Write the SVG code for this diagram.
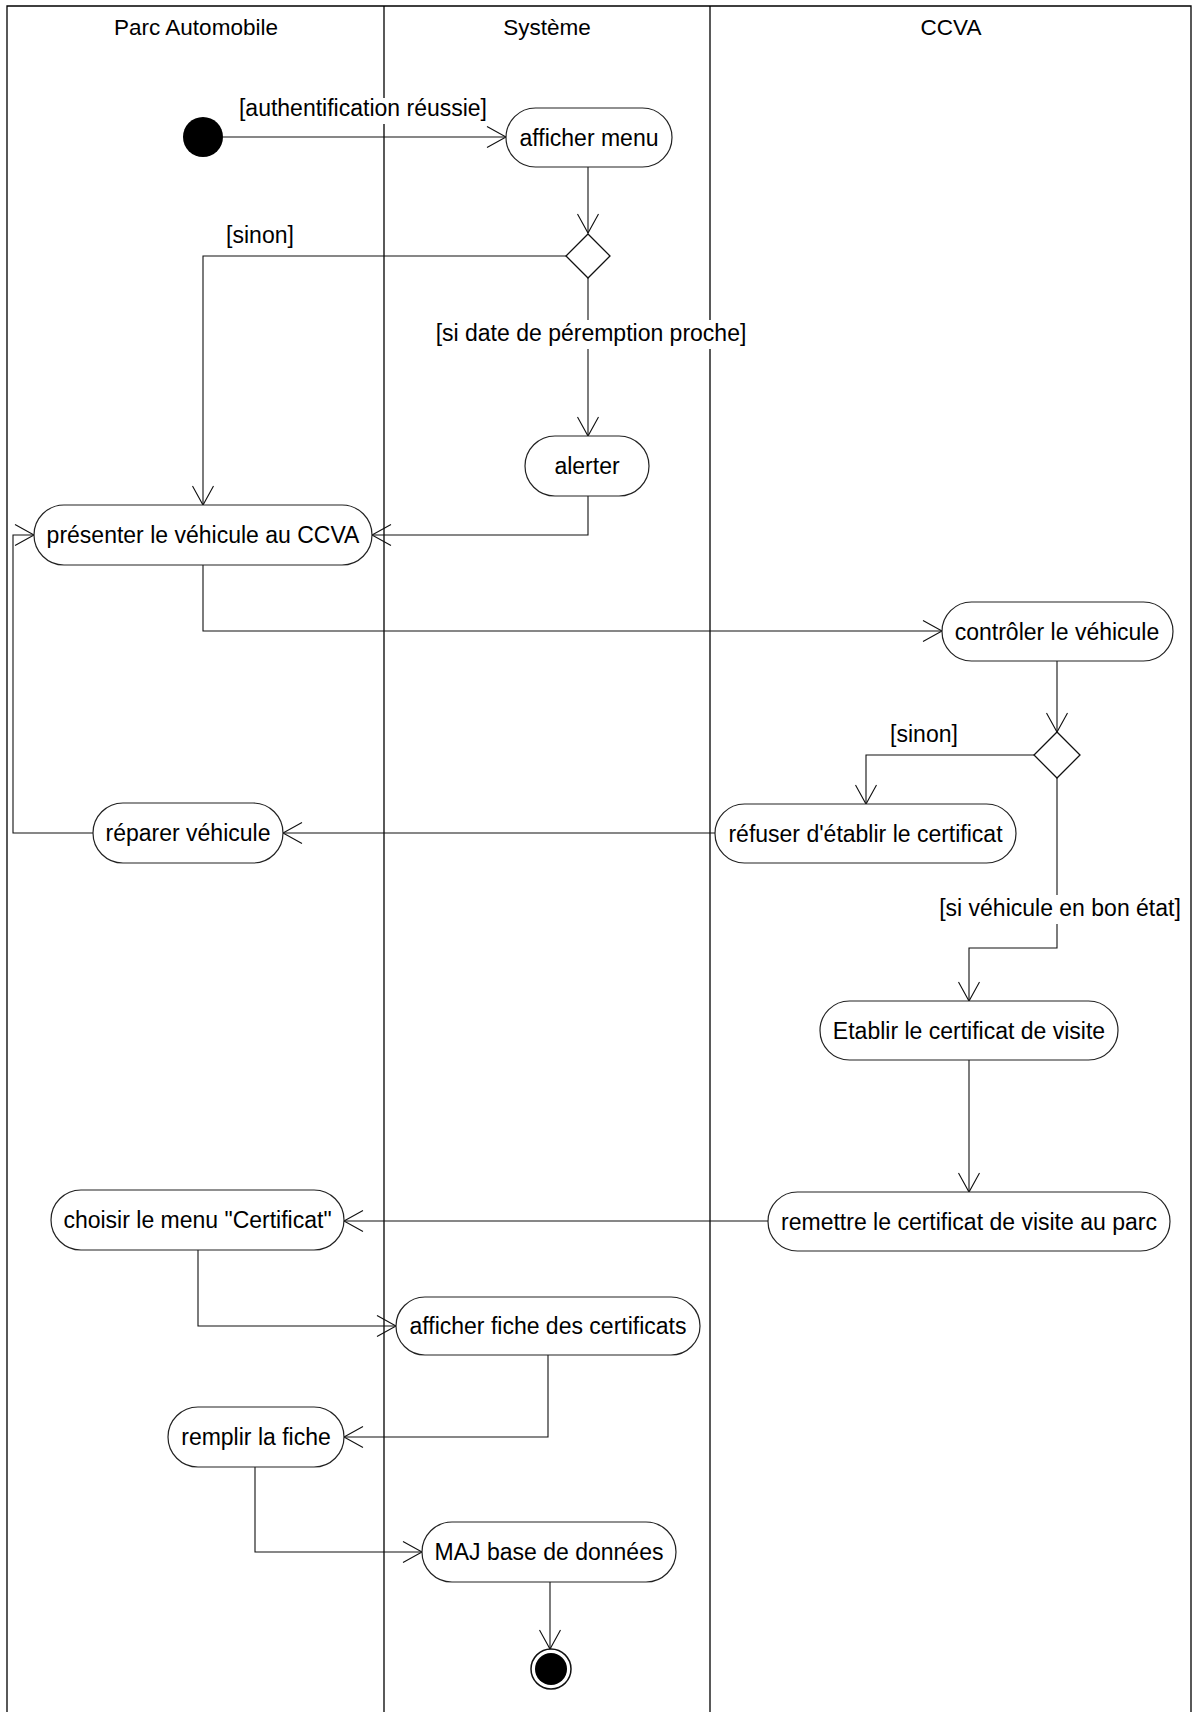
<svg xmlns="http://www.w3.org/2000/svg" width="1193" height="1712" viewBox="0 0 1193 1712">
<defs>
<style>
.lane{stroke:#000;stroke-width:1.3;fill:none}
.hdr{font-family:"Liberation Sans",Arial,sans-serif;font-size:22.5px;fill:#000;text-anchor:middle}
.act rect{fill:#fff;stroke:#222;stroke-width:1.2}
.act text,.lbl{font-family:"Liberation Sans",Arial,sans-serif;font-size:23px;fill:#000;text-anchor:middle}
.con path{fill:none;stroke:#111;stroke-width:1.1;marker-end:url(#arr)}
.bg{fill:#fff;stroke:none}
</style>
<marker id="arr" markerUnits="userSpaceOnUse" viewBox="-21 -12 23 24" refX="0" refY="0" markerWidth="23" markerHeight="24" orient="auto">
<path d="M-19,-10.5 L0,0 L-19,10.5" fill="none" stroke="#111" stroke-width="1.1"/>
</marker>
</defs>
<rect width="1193" height="1712" fill="#fff"/>
<g id="lanes">
<path class="lane" d="M7,1712 V6 H1191 V1712"/>
<path class="lane" d="M384,6 V1712"/>
<path class="lane" d="M710,6 V1712"/>
<text class="hdr" x="196" y="35">Parc Automobile</text>
<text class="hdr" x="547" y="35">Système</text>
<text class="hdr" x="951" y="35">CCVA</text>
</g>
<g id="connectors" class="con">
<path d="M223,137 H506"/>
<path d="M588,167 V233"/>
<path d="M566,256 H203 V505"/>
<path d="M588,278 V436"/>
<path d="M588,496 V535 H372"/>
<path d="M203,565 V631 H942"/>
<path d="M1057,661 V732"/>
<path d="M1034,755 H866 V804"/>
<path d="M715,833 H283"/>
<path d="M93,833 H13 V535 H34"/>
<path d="M1057,778 V948 H969 V1001"/>
<path d="M969,1060 V1192"/>
<path d="M768,1221 H344"/>
<path d="M198,1250 V1326 H396"/>
<path d="M548,1355 V1437 H344"/>
<path d="M255,1467 V1552 H422"/>
<path d="M550,1582 V1649"/>
</g>
<g id="labels">
<rect class="bg" x="236" y="98" width="255" height="26"/>
<text class="lbl" x="363" y="116">[authentification réussie]</text>
<text class="lbl" x="260" y="243">[sinon]</text>
<rect class="bg" x="433" y="320" width="316" height="29"/>
<text class="lbl" x="591" y="341">[si date de péremption proche]</text>
<text class="lbl" x="924" y="742">[sinon]</text>
<rect class="bg" x="938" y="895" width="245" height="29"/>
<text class="lbl" x="1060" y="916">[si véhicule en bon état]</text>
</g>
<g id="start"><circle cx="203" cy="137" r="20" fill="#000"/></g>
<g id="n_afficher_menu" class="act"><rect x="506" y="108" width="166" height="59" rx="29.5"/><text x="589" y="145.5">afficher menu</text></g>
<g id="d1"><path d="M588,234 L610,256 L588,278 L566,256 Z" fill="#fff" stroke="#111" stroke-width="1.3"/></g>
<g id="n_alerter" class="act"><rect x="525" y="436" width="124" height="60" rx="30"/><text x="587" y="474">alerter</text></g>
<g id="n_presenter" class="act"><rect x="34" y="505" width="338" height="60" rx="30"/><text x="203" y="543">présenter le véhicule au CCVA</text></g>
<g id="n_controler" class="act"><rect x="942" y="602" width="231" height="59" rx="29.5"/><text x="1057" y="639.5">contrôler le véhicule</text></g>
<g id="d2"><path d="M1057,732 L1080,755 L1057,778 L1034,755 Z" fill="#fff" stroke="#111" stroke-width="1.3"/></g>
<g id="n_refuser" class="act"><rect x="715" y="804" width="301" height="59" rx="29.5"/><text x="865.5" y="841.5">réfuser d'établir le certificat</text></g>
<g id="n_reparer" class="act"><rect x="93" y="803" width="190" height="60" rx="30"/><text x="188" y="841">réparer véhicule</text></g>
<g id="n_etablir" class="act"><rect x="820" y="1001" width="298" height="59" rx="29.5"/><text x="969" y="1038.5">Etablir le certificat de visite</text></g>
<g id="n_remettre" class="act"><rect x="768" y="1192" width="402" height="59" rx="29.5"/><text x="969" y="1229.5">remettre le certificat de visite au parc</text></g>
<g id="n_choisir" class="act"><rect x="51" y="1190" width="293" height="60" rx="30"/><text x="197.5" y="1228">choisir le menu "Certificat"</text></g>
<g id="n_afficher_fiche" class="act"><rect x="396" y="1297" width="304" height="58" rx="29"/><text x="548" y="1334">afficher fiche des certificats</text></g>
<g id="n_remplir" class="act"><rect x="168" y="1407" width="176" height="60" rx="30"/><text x="256" y="1445">remplir la fiche</text></g>
<g id="n_maj" class="act"><rect x="422" y="1522" width="254" height="60" rx="30"/><text x="549" y="1560">MAJ base de données</text></g>
<g id="end"><circle cx="551" cy="1669" r="20" fill="#fff" stroke="#111" stroke-width="1.5"/><circle cx="551" cy="1669" r="16" fill="#000"/></g>
</svg>
